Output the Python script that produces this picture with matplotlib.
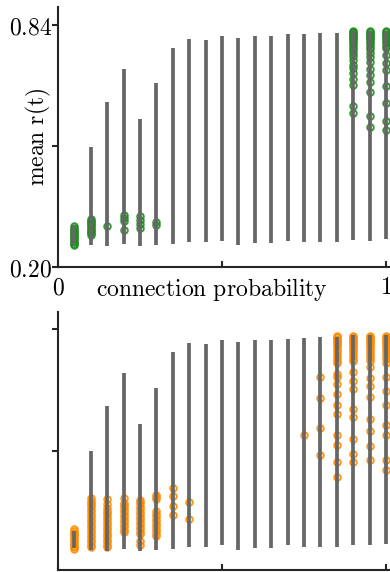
import matplotlib
matplotlib.use("Agg")
import matplotlib.pyplot as plt

plt.rcParams['mathtext.fontset'] = 'cm'

# connection probabilities and min/max range of mean r(t) at each one
probs = [0.05, 0.10, 0.15, 0.20, 0.25, 0.30, 0.35, 0.40, 0.45, 0.50,
         0.55, 0.60, 0.65, 0.70, 0.75, 0.80, 0.85, 0.90, 0.95, 1.00]
range_lo = [0.262, 0.258, 0.256, 0.261, 0.256, 0.258, 0.261, 0.267, 0.266, 0.270,
            0.258, 0.264, 0.264, 0.270, 0.267, 0.267, 0.267, 0.271, 0.270, 0.273]
range_hi = [0.308, 0.518, 0.637, 0.723, 0.591, 0.686, 0.780, 0.803, 0.800, 0.811,
            0.806, 0.811, 0.811, 0.815, 0.817, 0.818, 0.820, 0.825, 0.825, 0.825]

# runs shown as circles (top panel, green)
green_probs = [0.05, 0.10, 0.15, 0.20, 0.25, 0.30, 0.90, 0.95, 1.00]
green_vals = [
    [0.258, 0.262, 0.267, 0.270, 0.275, 0.279, 0.283, 0.287, 0.291, 0.296, 0.299, 0.303, 0.308],
    [0.285, 0.290, 0.293, 0.298, 0.301, 0.306, 0.310, 0.313, 0.318, 0.321, 0.326],
    [0.308],
    [0.298, 0.322, 0.330, 0.337],
    [0.304, 0.313, 0.324, 0.335],
    [0.311, 0.318],
    [0.825, 0.821, 0.818, 0.814, 0.810, 0.806, 0.802, 0.797, 0.792, 0.786, 0.780, 0.774,
     0.766, 0.758, 0.748, 0.734, 0.726, 0.713, 0.697, 0.681, 0.626, 0.607],
    [0.825, 0.821, 0.817, 0.813, 0.809, 0.805, 0.800, 0.795, 0.789, 0.783, 0.776,
     0.765, 0.755, 0.743, 0.723, 0.708, 0.690, 0.664, 0.600, 0.570],
    [0.825, 0.821, 0.817, 0.813, 0.808, 0.803, 0.798, 0.792, 0.785, 0.778,
     0.760, 0.740, 0.721, 0.679, 0.634, 0.586, 0.561],
]

# runs shown as circles (bottom panel, orange)
orange_probs = [0.05, 0.10, 0.15, 0.20, 0.25, 0.30, 0.35, 0.40,
                0.75, 0.80, 0.85, 0.90, 0.95, 1.00]
orange_vals = [
    [0.260, 0.265, 0.269, 0.274, 0.279, 0.284, 0.289, 0.294, 0.299, 0.304, 0.309, 0.313],
    [0.266, 0.272, 0.279, 0.285, 0.292, 0.298, 0.305, 0.311, 0.318, 0.324, 0.331, 0.337,
     0.344, 0.350, 0.357, 0.363, 0.370, 0.376, 0.382, 0.388, 0.394],
    [0.265, 0.271, 0.278, 0.284, 0.291, 0.297, 0.304, 0.310, 0.317, 0.323, 0.330, 0.336,
     0.343, 0.349, 0.356, 0.362, 0.369, 0.380, 0.392],
    [0.305, 0.311, 0.318, 0.324, 0.331, 0.337, 0.344, 0.350, 0.357, 0.363, 0.370, 0.376,
     0.381, 0.394],
    [0.272, 0.283, 0.300, 0.306, 0.313, 0.319, 0.326, 0.332, 0.339, 0.345, 0.352, 0.358,
     0.365, 0.371, 0.378, 0.384, 0.390],
    [0.295, 0.301, 0.308, 0.314, 0.321, 0.327, 0.334, 0.340, 0.347, 0.353, 0.360,
     0.392, 0.397, 0.402],
    [0.349, 0.373, 0.399, 0.420],
    [0.340, 0.385],
    [0.560],
    [0.508, 0.580, 0.659, 0.713],
    [0.822, 0.818, 0.814, 0.810, 0.806, 0.802, 0.797, 0.792, 0.786, 0.780, 0.772, 0.764,
     0.756, 0.750, 0.722, 0.714, 0.696, 0.670, 0.639, 0.617, 0.560, 0.534, 0.490, 0.451],
    [0.822, 0.818, 0.814, 0.810, 0.806, 0.801, 0.796, 0.790, 0.784, 0.777, 0.770, 0.762,
     0.755, 0.726, 0.702, 0.683, 0.630, 0.608, 0.550, 0.512, 0.489],
    [0.822, 0.818, 0.814, 0.810, 0.806, 0.801, 0.796, 0.790, 0.784, 0.778, 0.771, 0.763,
     0.755, 0.740, 0.711, 0.689, 0.662, 0.602, 0.572, 0.531, 0.496],
    [0.822, 0.818, 0.814, 0.810, 0.806, 0.801, 0.796, 0.790, 0.784, 0.777, 0.769, 0.760,
     0.750, 0.713, 0.678, 0.639, 0.586, 0.560, 0.494, 0.468],
]

line_col = '#666666'
spine_col = '#262626'

fig = plt.figure(figsize=(3.9, 5.72), dpi=100)
W, H = 390.0, 572.0
x_right = 1.05
ax_w = 344.4 / W
ax1 = fig.add_axes([58 / W, 1 - 267 / H, ax_w, 260 / H])
ax2 = fig.add_axes([58 / W, 1 - 570 / H, ax_w, 258 / H])


def draw_panel(ax, mprobs, mvals, color):
    for p, vals in zip(mprobs, mvals):
        ax.plot([p] * len(vals), vals, 'o', mfc='none', mec=color,
                ms=4.7, mew=1.4, alpha=0.9, zorder=2, clip_on=False)
    ax.vlines(probs, range_lo, range_hi, color=line_col, lw=2.7, zorder=3)
    ax.set_xlim(0, x_right)
    for s in ['top', 'right']:
        ax.spines[s].set_visible(False)
    for s in ['left', 'bottom']:
        ax.spines[s].set_color(spine_col)
        ax.spines[s].set_linewidth(1.5)
    ax.set_xticks([0, 0.5, 1])
    ax.set_yticks([0.20, 0.52, 0.84])
    ax.tick_params(axis='x', direction='in', length=4, width=1.5, color=spine_col, pad=6,
                   labelsize=17)
    ax.tick_params(axis='y', direction='out', length=4, width=1.5, color=spine_col, pad=0,
                   labelsize=17)


draw_panel(ax1, green_probs, green_vals, '#238b23')
draw_panel(ax2, orange_probs, orange_vals, '#ff8c00')

ax1.set_ylim(0.2, 0.8876)
ax2.set_ylim(0.2053, 0.8876 - 0.002645 * 1)

ax1.set_xticklabels([r'$0$', '', r'$1$'])
ax1.set_yticklabels([r'$0.20$', '', r'$0.84$'])
ax2.set_xticklabels([])
ax2.set_yticklabels([])

ax1.set_ylabel(r'$\mathrm{mean\ r(t)}$', fontsize=17)
ax1.yaxis.set_label_coords(-0.015, 0.5)
ax1.set_xlabel(r'$\mathrm{connection\ probability}$', fontsize=17, va='top')
ax1.xaxis.set_label_coords(0.447, -0.036)

fig.savefig('out.png', dpi=100)
